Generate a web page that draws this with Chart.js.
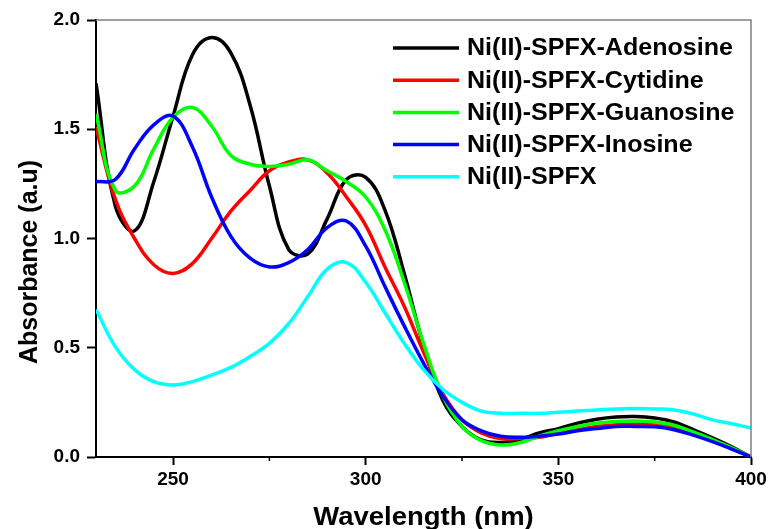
<!DOCTYPE html>
<html>
<head>
<meta charset="utf-8">
<script src="https://cdn.jsdelivr.net/npm/chart.js@4"></script>
<style>
  html, body { margin: 0; padding: 0; background: #fff; }
  #wrap { width: 770px; height: 529px; }
</style>
</head>
<body>
<div id="wrap"><canvas id="chart" width="770" height="529"></canvas></div>
<script>
// wavelength (nm)
const wavelengths = [230, 235, 240, 245, 250, 255, 260, 265, 270, 275, 280, 285, 290, 295, 300, 305, 310, 315,
    320, 325, 330, 335, 340, 345, 350, 355, 360, 365, 370, 375, 380, 385, 390, 395, 400];

const adenosine = [1.71, 1.15, 1.035, 1.26, 1.56, 1.84, 1.92, 1.85, 1.61, 1.24, 0.95, 0.93, 1.09, 1.27, 1.28, 1.13, 0.84, 0.51,
    0.26, 0.14, 0.078, 0.066, 0.08, 0.11, 0.13, 0.155, 0.173, 0.183, 0.185, 0.178, 0.16, 0.125, 0.088, 0.047, 0.0];
const cytidine = [1.51, 1.18, 1.0, 0.88, 0.84, 0.885, 1.0, 1.125, 1.22, 1.31, 1.35, 1.36, 1.30, 1.19, 1.06, 0.87, 0.69, 0.48,
    0.29, 0.17, 0.11, 0.085, 0.085, 0.09, 0.11, 0.125, 0.14, 0.148, 0.15, 0.148, 0.135, 0.11, 0.075, 0.04, 0.0];
const guanosine = [1.57, 1.22, 1.24, 1.41, 1.555, 1.60, 1.515, 1.38, 1.34, 1.33, 1.34, 1.36, 1.31, 1.26, 1.19, 1.04, 0.80, 0.52,
    0.28, 0.14, 0.075, 0.055, 0.065, 0.095, 0.12, 0.14, 0.155, 0.163, 0.165, 0.16, 0.145, 0.115, 0.08, 0.042, 0.0];
const inosine = [1.26, 1.27, 1.41, 1.52, 1.56, 1.42, 1.19, 1.01, 0.91, 0.87, 0.89, 0.95, 1.05, 1.08, 0.965, 0.78, 0.60, 0.43,
    0.28, 0.17, 0.12, 0.095, 0.09, 0.095, 0.105, 0.12, 0.13, 0.14, 0.14, 0.138, 0.125, 0.10, 0.07, 0.036, 0.0];
const spfx = [0.675, 0.505, 0.40, 0.345, 0.33, 0.345, 0.375, 0.41, 0.46, 0.52, 0.61, 0.735, 0.86, 0.89, 0.80, 0.66, 0.52, 0.40,
    0.31, 0.25, 0.21, 0.20, 0.20, 0.20, 0.205, 0.21, 0.215, 0.22, 0.222, 0.22, 0.215, 0.197, 0.17, 0.152, 0.133];

const seriesNames = ['Ni(II)-SPFX-Adenosine', 'Ni(II)-SPFX-Cytidine', 'Ni(II)-SPFX-Guanosine', 'Ni(II)-SPFX-Inosine', 'Ni(II)-SPFX'];
const seriesColors = ['#000000', '#ff0000', '#00ff00', '#0000ff', '#00ffff'];
const seriesValues = [adenosine, cytidine, guanosine, inosine, spfx];

const xMinorTicks = [275, 325, 375];
const yTickStep = 0.5;

const fontFamily = "Arial, 'Liberation Sans', sans-serif";

function toPoints(values) {
    return values.map(function(v, i) { return { x: wavelengths[i], y: v }; });
}

const datasets = seriesValues.map(function(values, i) {
    return {
        label: seriesNames[i],
        data: toPoints(values),
        borderColor: seriesColors[i],
        backgroundColor: seriesColors[i],
        borderWidth: 3.5,
        pointRadius: 0,
        tension: 0.4,
        fill: false,
        order: seriesValues.length - i
    };
});

// frame, minor ticks, legend and axis titles
const decorPlugin = {
    id: 'decor',
    afterDraw: function(chart) {
        const ctx = chart.ctx;
        const area = chart.chartArea;
        const xScale = chart.scales.x;

        ctx.save();
        // grey top and right frame
        ctx.strokeStyle = '#808080';
        ctx.lineWidth = 1.5;
        ctx.beginPath();
        ctx.moveTo(area.left, area.top);
        ctx.lineTo(area.right, area.top);
        ctx.lineTo(area.right, area.bottom);
        ctx.stroke();

        // minor x ticks
        ctx.strokeStyle = '#000';
        ctx.lineWidth = 1.5;
        xMinorTicks.forEach(function(v) {
            const px = xScale.getPixelForValue(v);
            ctx.beginPath();
            ctx.moveTo(px, area.bottom);
            ctx.lineTo(px, area.bottom + 4);
            ctx.stroke();
        });

        // legend
        ctx.font = 'bold 23px ' + fontFamily;
        ctx.textBaseline = 'middle';
        ctx.textAlign = 'left';
        chart.data.datasets.forEach(function(ds, i) {
            const y = 48 + i * 32.2;
            ctx.strokeStyle = ds.borderColor;
            ctx.lineWidth = 3.5;
            ctx.beginPath();
            ctx.moveTo(393, y);
            ctx.lineTo(459, y);
            ctx.stroke();
            ctx.fillStyle = '#000';
            ctx.save();
            ctx.translate(467, y + 1);
            ctx.scale(1.09, 1);
            ctx.fillText(ds.label, 0, 0);
            ctx.restore();
        });

        // axis titles
        ctx.fillStyle = '#000';
        ctx.font = 'bold 25px ' + fontFamily;
        ctx.textAlign = 'center';
        ctx.textBaseline = 'alphabetic';
        ctx.save();
        ctx.translate((area.left + area.right) / 2, 525);
        ctx.scale(1.1, 1);
        ctx.fillText('Wavelength (nm)', 0, 0);
        ctx.restore();

        ctx.save();
        ctx.translate(37, 262);
        ctx.rotate(-Math.PI / 2);
        ctx.fillText('Absorbance (a.u)', 0, 0);
        ctx.restore();
        ctx.restore();
    }
};

new Chart(document.getElementById('chart'), {
    type: 'line',
    data: { datasets: datasets },
    options: {
        responsive: false,
        animation: false,
        devicePixelRatio: 1,
        layout: { padding: { top: 20, right: 19, left: 0, bottom: 0 } },
        plugins: {
            legend: { display: false },
            tooltip: { enabled: false }
        },
        scales: {
            x: {
                type: 'linear',
                min: 230,
                max: 400,
                afterFit: function(scale) { scale.height = 72; },
                border: { display: true, color: '#000', width: 2 },
                grid: { display: true, drawOnChartArea: false, drawTicks: true, tickLength: 8, tickColor: '#000', tickWidth: 2 },
                ticks: {
                    stepSize: 50,
                    includeBounds: false,
                    padding: 3,
                    color: '#000',
                    font: { family: fontFamily, size: 19, weight: 'bold' }
                }
            },
            y: {
                min: 0,
                max: 2,
                afterFit: function(scale) { scale.width = 96; },
                border: { display: true, color: '#000', width: 2 },
                grid: { display: true, drawOnChartArea: false, drawTicks: true, tickLength: 9, tickColor: '#000', tickWidth: 2 },
                ticks: {
                    stepSize: yTickStep,
                    padding: 7,
                    color: '#000',
                    font: { family: fontFamily, size: 19, weight: 'bold' },
                    callback: function(v) { return v.toFixed(1); }
                }
            }
        }
    },
    plugins: [decorPlugin]
});
</script>
</body>
</html>
